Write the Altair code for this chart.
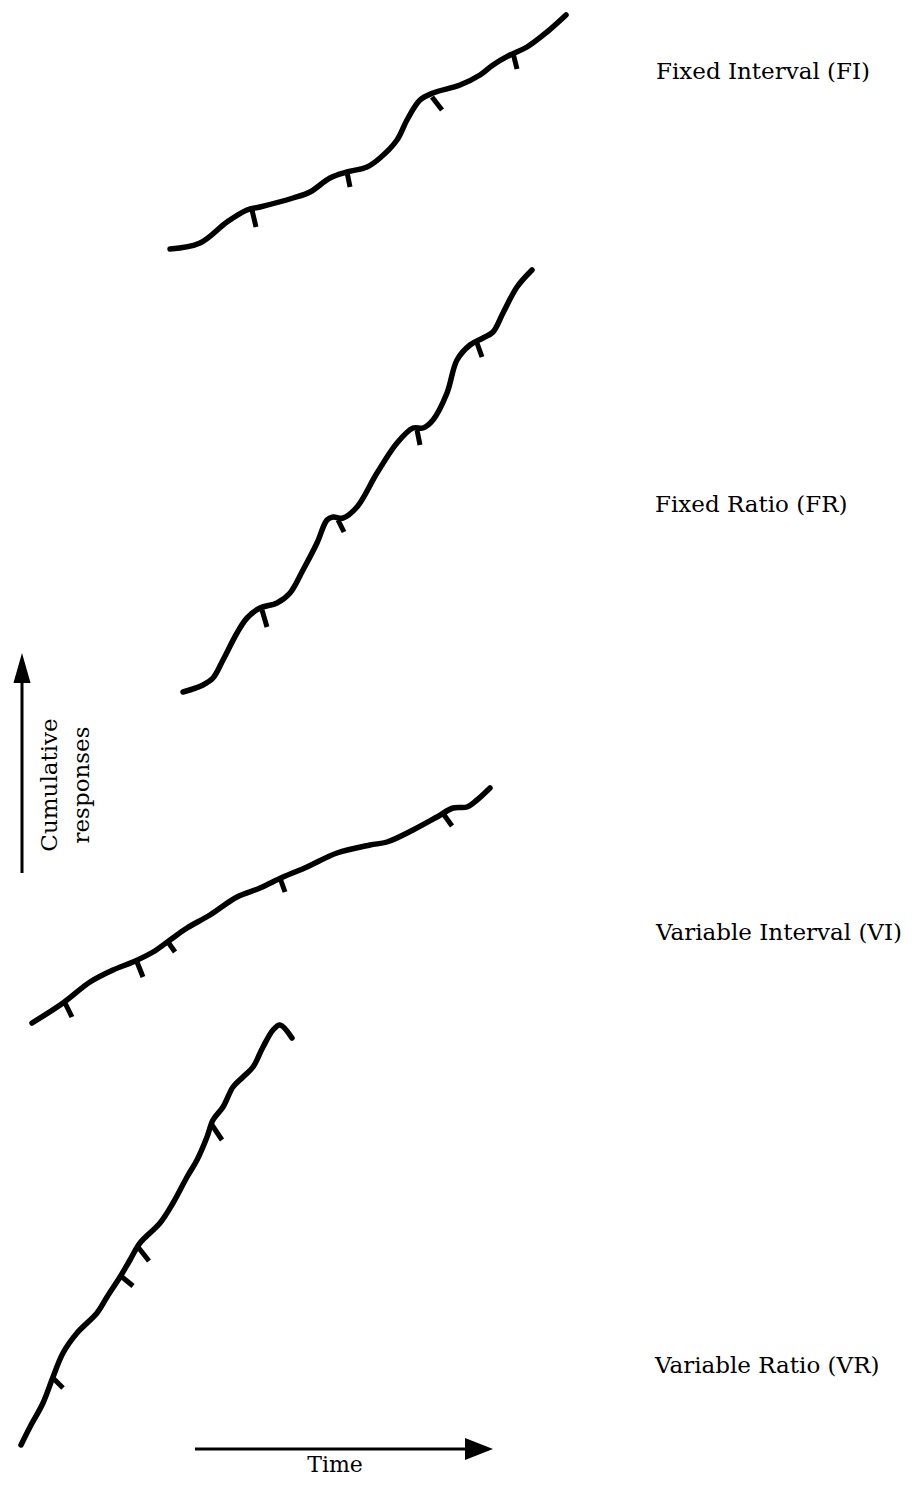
import altair as alt
import pandas as pd

# Cumulative-record curves (traced positions, page pixel units)
FI_X = [170, 200, 227, 247, 260, 293, 310, 330, 347, 367, 380, 397, 407, 420, 433, 460, 480, 493, 510, 527, 547, 566]
FI_Y = [249, 243, 222, 210, 207, 198, 192, 178, 172, 167, 158, 140, 120, 100, 93, 85, 75, 65, 55, 47, 32, 15]

FR_X = [183, 203, 213, 223, 237, 247, 260, 277, 290, 303, 317, 327, 333, 343, 357, 377, 397, 413, 423, 433, 447, 457, 470, 483, 493, 503, 517, 532]
FR_Y = [692, 685, 678, 660, 633, 618, 608, 603, 593, 570, 543, 520, 517, 518, 507, 473, 443, 428, 428, 420, 393, 360, 345, 338, 332, 313, 287, 270]

VI_X = [32, 63, 90, 113, 133, 153, 170, 187, 210, 237, 260, 283, 307, 337, 370, 387, 413, 437, 453, 467, 477, 490]
VI_Y = [1023, 1003, 982, 970, 962, 952, 940, 928, 915, 897, 888, 877, 867, 853, 845, 842, 830, 817, 808, 807, 800, 788]

VR_X = [21, 30, 43, 53, 63, 77, 97, 107, 120, 130, 140, 160, 173, 187, 197, 207, 213, 223, 233, 243, 253, 263, 273, 280, 292]
VR_Y = [1445, 1427, 1403, 1377, 1353, 1333, 1313, 1297, 1277, 1260, 1243, 1223, 1203, 1177, 1160, 1137, 1120, 1107, 1087, 1077, 1067, 1047, 1030, 1025, 1038]

# Reinforcement hash marks: start (on curve) and end points
TICK_X1 = [252, 347, 432, 513, 262, 338, 417, 477, 65, 137, 168, 280, 442, 53, 122, 138, 212]
TICK_Y1 = [210, 172, 97, 53, 610, 520, 430, 343, 1003, 962, 942, 878, 812, 1378, 1277, 1247, 1125]
TICK_X2 = [256, 350, 442, 517, 267, 344, 420, 482, 72, 143, 175, 285, 452, 63, 133, 149, 222]
TICK_Y2 = [227, 187, 110, 69, 627, 532, 445, 357, 1017, 977, 952, 892, 826, 1388, 1286, 1261, 1140]

# Schedule labels
LABELS = ["Fixed Interval (FI)", "Fixed Ratio (FR)", "Variable Interval (VI)", "Variable Ratio (VR)"]
LABEL_X = [656, 655, 656, 655]
LABEL_Y = [72, 505, 933, 1366]

# Axis arrows
AXIS_X1 = [22, 195]
AXIS_Y1 = [873, 1449]
AXIS_X2 = [22, 470]
AXIS_Y2 = [683, 1449]

frames = []
for name, xs_, ys_ in [("FI", FI_X, FI_Y), ("FR", FR_X, FR_Y), ("VI", VI_X, VI_Y), ("VR", VR_X, VR_Y)]:
    frames.append(pd.DataFrame({"x": xs_, "y": ys_, "i": range(len(xs_)), "s": name}))
curves = pd.concat(frames, ignore_index=True)

ticks = pd.DataFrame({"x": TICK_X1, "y": TICK_Y1, "x2": TICK_X2, "y2": TICK_Y2})
labels = pd.DataFrame({"x": LABEL_X, "y": LABEL_Y, "t": LABELS})
axes_df = pd.DataFrame({"x": AXIS_X1, "y": AXIS_Y1, "x2": AXIS_X2, "y2": AXIS_Y2})

XS = alt.Scale(domain=[8, 908], nice=False, zero=False)
YS = alt.Scale(domain=[8, 1479], nice=False, zero=False, reverse=True)

def X(f="x"):
    return alt.X(f + ":Q", scale=XS, axis=None)

def Y(f="y"):
    return alt.Y(f + ":Q", scale=YS, axis=None)

lines = alt.Chart(curves).mark_line(
    interpolate="catmull-rom", strokeWidth=5.5, color="black", strokeCap="round", strokeJoin="round"
).encode(x=X(), y=Y(), detail="s:N", order="i:Q")

tick_marks = alt.Chart(ticks).mark_rule(strokeWidth=5, color="black", strokeCap="butt").encode(
    x=X(), y=Y(), x2="x2:Q", y2="y2:Q"
)

axis_lines = alt.Chart(axes_df).mark_rule(strokeWidth=3, color="black").encode(
    x=X(), y=Y(), x2="x2:Q", y2="y2:Q"
)

up_head = alt.Chart(pd.DataFrame({"x": [22], "y": [668]})).mark_point(
    shape="M0,-1L0.57,1L-0.57,1Z", size=900, filled=True, color="black", opacity=1, strokeWidth=0
).encode(x=X(), y=Y())

right_head = alt.Chart(pd.DataFrame({"x": [479], "y": [1449]})).mark_point(
    shape="M1,0L-1,-0.79L-1,0.79Z", size=784, filled=True, color="black", opacity=1, strokeWidth=0
).encode(x=X(), y=Y())

label_text = alt.Chart(labels).mark_text(
    align="left", baseline="middle", font="DejaVu Serif", fontSize=23, color="black"
).encode(x=X(), y=Y(), text="t:N")

ylab = alt.Chart(pd.DataFrame({"x": [50, 82], "y": [785, 785], "t": ["Cumulative", "responses"]})).mark_text(
    align="center", baseline="middle", angle=270, font="DejaVu Serif", fontSize=23, color="black"
).encode(x=X(), y=Y(), text="t:N")

xlab = alt.Chart(pd.DataFrame({"x": [335], "y": [1472], "t": ["Time"]})).mark_text(
    align="center", baseline="alphabetic", font="DejaVu Serif", fontSize=22, color="black"
).encode(x=X(), y=Y(), text="t:N")

chart = alt.layer(lines, tick_marks, axis_lines, up_head, right_head, label_text, ylab, xlab).properties(
    width=900, height=1471, padding=0,
    autosize=alt.AutoSizeParams(type="none"),
).configure_view(stroke=None)

chart.save("out.html", embed_options={"renderer": "svg", "actions": False})
